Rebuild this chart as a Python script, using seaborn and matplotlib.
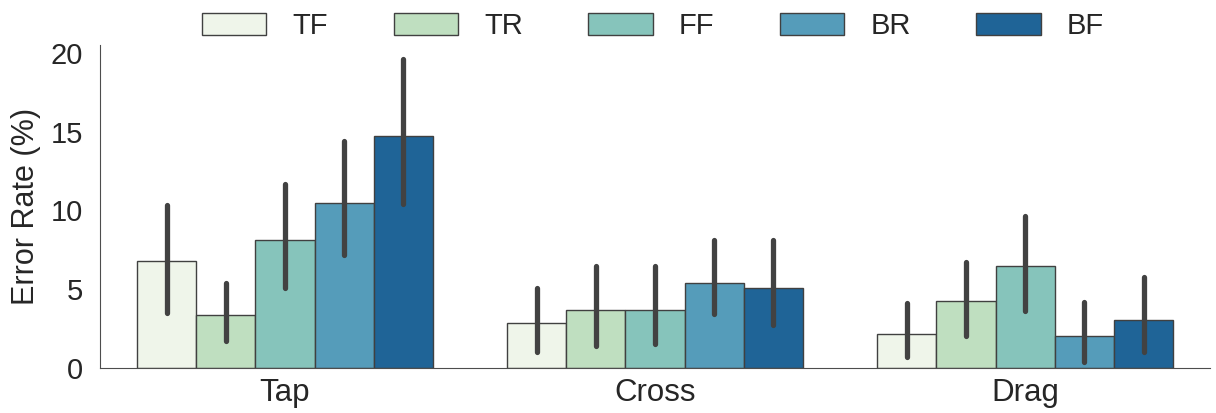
import numpy as np
import pandas as pd
import matplotlib
matplotlib.use("Agg")
import matplotlib.pyplot as plt
import seaborn as sns

tasks = ["Tap", "Cross", "Drag"]
conditions = ["TF", "TR", "FF", "BR", "BF"]

# mean error rate (%) per task, one list per condition
tf_mean = [6.8, 2.85, 2.15]
tr_mean = [3.35, 3.65, 4.25]
ff_mean = [8.1, 3.65, 6.5]
br_mean = [10.5, 5.4, 2.05]
bf_mean = [14.7, 5.1, 3.05]

# confidence interval bounds
tf_lo = [3.5, 1.0, 0.7]
tf_hi = [10.35, 5.1, 4.1]
tr_lo = [1.7, 1.4, 2.0]
tr_hi = [5.4, 6.5, 6.75]
ff_lo = [5.1, 1.5, 3.6]
ff_hi = [11.7, 6.5, 9.65]
br_lo = [7.2, 3.4, 0.4]
br_hi = [14.4, 8.1, 4.2]
bf_lo = [10.4, 2.7, 1.0]
bf_hi = [19.6, 8.1, 5.8]

means = [tf_mean, tr_mean, ff_mean, br_mean, bf_mean]
lows = [tf_lo, tr_lo, ff_lo, br_lo, bf_lo]
highs = [tf_hi, tr_hi, ff_hi, br_hi, bf_hi]

colors = ["#eff5ea", "#bfdfc0", "#86c4bb", "#559cba", "#1f6497"]

rows = []
for c, m in zip(conditions, means):
    for t, v in zip(tasks, m):
        rows.append({"Task": t, "Condition": c, "Error": v})
df = pd.DataFrame(rows)

sns.set_style("white")
plt.rcParams['font.family'] = ['Liberation Sans', 'DejaVu Sans']

fig = plt.figure(figsize=(12.16, 4.13), dpi=100)
ax = fig.add_axes([0.0822, 0.109, 0.913, 0.782])

sns.barplot(data=df, x="Task", y="Error", hue="Condition", order=tasks,
            hue_order=conditions, palette=colors, saturation=1,
            errorbar=None, edgecolor=".25", linewidth=1, width=0.8, ax=ax)

# error bars from the interval lists, placed at bar centres
for cont, lo, hi in zip(ax.containers, lows, highs):
    for bar, l, h in zip(cont, lo, hi):
        xc = bar.get_x() + bar.get_width() / 2
        ax.plot([xc, xc], [l, h], color=".26", linewidth=3.8,
                solid_capstyle="round", zorder=5)

ax.set_ylim(0, 20.5)
ax.set_xlim(-0.5, 2.5)
ax.set_yticks([0, 5, 10, 15, 20])
ax.set_xlabel("")
ax.set_ylabel("Error Rate (%)", fontsize=22, color=".15", labelpad=7)
ax.tick_params(axis="y", labelsize=21, colors=".15", length=0, pad=12)
ax.tick_params(axis="x", labelsize=22.5, colors=".15", length=0, pad=7)
sns.despine(ax=ax)
for s in ["left", "bottom"]:
    ax.spines[s].set_color(".3")

handles, labels = ax.get_legend_handles_labels()
ax.legend_.remove()
fig.legend(handles, labels, loc="center", bbox_to_anchor=(0.537, 0.937),
           ncol=5, frameon=False, fontsize=21, handlelength=2.2,
           handleheight=0.76, handletextpad=0.9, columnspacing=2.25)

fig.savefig("out.png", dpi=100)
